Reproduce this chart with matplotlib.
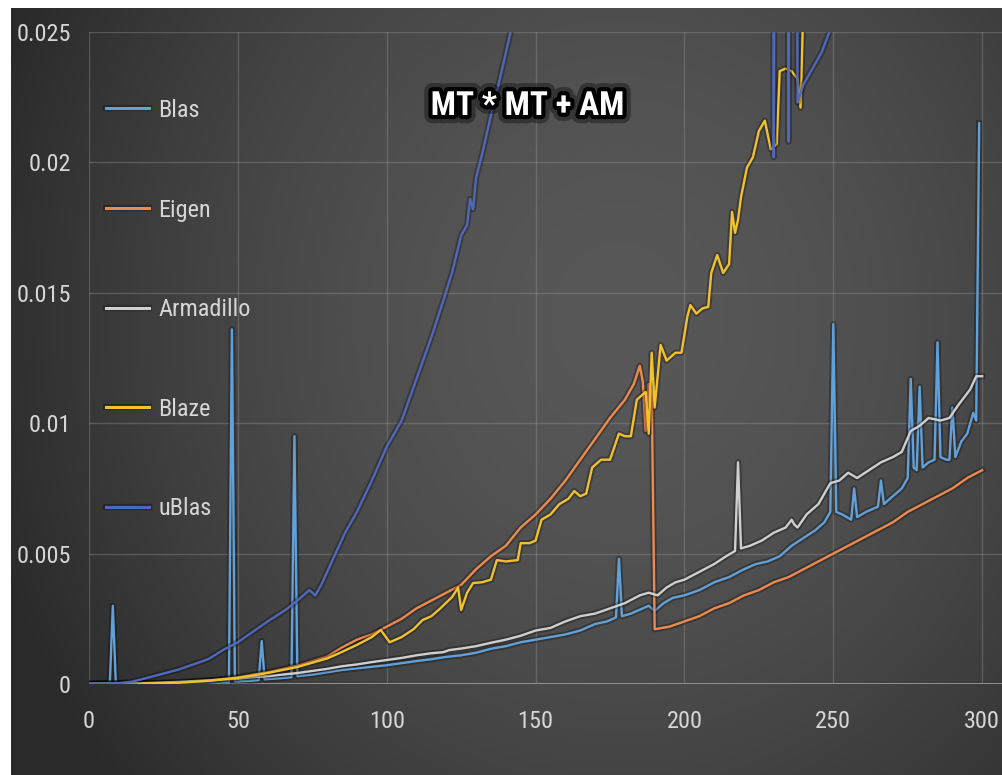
import numpy as np
import matplotlib
matplotlib.use("Agg")
import matplotlib.pyplot as plt
from matplotlib import patheffects as pe
from matplotlib.font_manager import FontProperties, findfont

# Runtime (s) of MT * MT + AM for matrix size n
blas_x = [0, 4, 7, 8, 9, 12, 20, 30, 40, 47, 48, 49, 54, 57, 58, 59, 64, 68, 69, 70,
          75, 80, 85, 90, 95, 100, 105, 110, 115, 120, 125, 130, 135, 140, 145, 150,
          155, 160, 165, 170, 174, 177, 178, 179, 182, 186, 188, 190, 193, 196, 200,
          205, 210, 215, 220, 224, 228, 232, 236, 240, 244, 247, 249, 250, 251, 253,
          256, 257, 258, 261, 265, 266, 267, 270, 273, 275, 276, 277, 278, 279, 280,
          282, 284, 285, 286, 288, 289, 290, 291, 293, 295, 297, 298, 299]
blas_y = [0.00002, 0.00003, 0.00004, 0.0030, 0.00004, 0.00003, 0.00003, 0.00004,
          0.00005, 0.00007, 0.0136, 0.0001, 0.00012, 0.00015, 0.00165, 0.00018,
          0.00022, 0.00026, 0.0095, 0.0003, 0.00036, 0.00045, 0.00054, 0.0006,
          0.00066, 0.00072, 0.0008, 0.00088, 0.00095, 0.00104, 0.0011, 0.0012,
          0.00135, 0.00145, 0.0016, 0.0017, 0.0018, 0.0019, 0.00205, 0.0023, 0.0024,
          0.00255, 0.0048, 0.0026, 0.0027, 0.0029, 0.0030, 0.0028, 0.0031, 0.0033,
          0.0034, 0.0036, 0.0039, 0.0041, 0.0044, 0.0046, 0.0047, 0.0049, 0.0053,
          0.0056, 0.0059, 0.0062, 0.0066, 0.0138, 0.0066, 0.0065, 0.0063, 0.0075,
          0.0064, 0.0066, 0.0068, 0.0078, 0.0069, 0.0072, 0.0075, 0.0079, 0.0117,
          0.0083, 0.0082, 0.0114, 0.0083, 0.0085, 0.0086, 0.0131, 0.0087, 0.0086,
          0.0086, 0.0106, 0.0087, 0.0093, 0.0096, 0.0104, 0.0101, 0.0215]

eigen_x = [0, 10, 20, 30, 40, 50, 60, 70, 80, 85, 90, 95, 100, 105, 110, 115, 120,
           125, 130, 135, 140, 145, 150, 155, 160, 165, 170, 175, 180, 183, 185, 186,
           187, 188, 189, 190, 195, 200, 205, 210, 215, 220, 225, 230, 235, 240, 245,
           250, 255, 260, 265, 270, 275, 280, 285, 290, 295, 300]
eigen_y = [0.0, 0.00001, 0.00002, 0.00005, 0.00013, 0.00026, 0.00045, 0.0007,
           0.00105, 0.0014, 0.0017, 0.0019, 0.0022, 0.0025, 0.0029, 0.0032, 0.0035,
           0.0038, 0.0044, 0.0049, 0.0053, 0.0060, 0.0065, 0.0071, 0.0078, 0.0086,
           0.0094, 0.0102, 0.0109, 0.0115, 0.0122, 0.0116, 0.0097, 0.0115, 0.0112,
           0.0021, 0.0022, 0.0024, 0.0026, 0.0029, 0.0031, 0.0034, 0.0036, 0.0039,
           0.0041, 0.0044, 0.0047, 0.0050, 0.0053, 0.0056, 0.0059, 0.0062, 0.0066,
           0.0069, 0.0072, 0.0075, 0.0079, 0.0082]

arma_x = [0, 10, 20, 30, 40, 50, 55, 60, 65, 70, 75, 80, 85, 90, 95, 100, 105, 110,
          115, 119, 121, 125, 130, 135, 140, 145, 150, 155, 160, 165, 170, 175, 180,
          185, 188, 191, 194, 197, 200, 205, 210, 214, 217, 218, 219, 222, 226, 230,
          234, 236, 237, 238, 241, 245, 249, 252, 255, 258, 262, 266, 270, 273, 276,
          279, 282, 286, 289, 292, 294, 296, 298, 300]
arma_y = [0.00001, 0.00002, 0.00004, 0.00008, 0.00014, 0.0002, 0.00026, 0.0003,
          0.00036, 0.00042, 0.0005, 0.00058, 0.00068, 0.00075, 0.00084, 0.00092,
          0.0010, 0.0011, 0.00118, 0.00122, 0.0013, 0.00136, 0.00145, 0.00158,
          0.0017, 0.00185, 0.00205, 0.00215, 0.0024, 0.0026, 0.0027, 0.0029, 0.0031,
          0.0034, 0.0035, 0.0034, 0.0037, 0.0039, 0.0040, 0.0043, 0.0046, 0.0049,
          0.0051, 0.0085, 0.0052, 0.0053, 0.0055, 0.0058, 0.0060, 0.0063, 0.0061,
          0.0060, 0.0065, 0.0069, 0.0077, 0.0078, 0.0081, 0.0079, 0.0082, 0.0085,
          0.0087, 0.0089, 0.0097, 0.0099, 0.0102, 0.0101, 0.0102, 0.0107, 0.0110,
          0.0113, 0.0118, 0.0118]

blaze_x = [0, 10, 20, 30, 40, 50, 60, 70, 80, 84, 90, 95, 98, 101, 105, 109, 112,
           115, 118, 122, 124, 125, 127, 129, 132, 135, 137, 140, 144, 145, 148, 150,
           152, 155, 158, 161, 163, 165, 167, 169, 172, 175, 178, 180, 182, 184, 187,
           188, 189, 190, 192, 194, 197, 199, 201, 202, 204, 206, 208, 209, 211, 213,
           215, 216, 217, 218, 219, 221, 223, 225, 227, 229, 231, 232, 234, 236, 238,
           239, 240]
blaze_y = [0.0, 0.00001, 0.00002, 0.00005, 0.00012, 0.00024, 0.00042, 0.00065,
           0.00098, 0.00118, 0.0015, 0.0018, 0.00207, 0.0016, 0.0018, 0.0021, 0.00245,
           0.0026, 0.0029, 0.00334, 0.0037, 0.00284, 0.0035, 0.00387, 0.0039, 0.0040,
           0.00475, 0.0047, 0.00475, 0.0054, 0.0054, 0.0055, 0.0063, 0.0065, 0.0069,
           0.0071, 0.0074, 0.0072, 0.0073, 0.0083, 0.0086, 0.0086, 0.0096, 0.0095,
           0.0095, 0.0109, 0.0112, 0.0096, 0.0127, 0.0106, 0.0130, 0.0124, 0.0127,
           0.0127, 0.0141, 0.01453, 0.0142, 0.0144, 0.01446, 0.01576, 0.01645,
           0.01576, 0.0161, 0.0181, 0.0173, 0.0178, 0.01867, 0.0198, 0.0202, 0.0212,
           0.0216, 0.0205, 0.0207, 0.0235, 0.0236, 0.0235, 0.0232, 0.0221, 0.0262]

ublas_x = [0, 10, 15, 20, 25, 30, 35, 40, 45, 50, 55, 60, 66, 70, 74, 76, 78, 82, 86,
           90, 95, 100, 105, 110, 115, 119, 122, 125, 127, 128, 129, 130, 132, 135,
           138, 142, 146, 150, 229, 230, 231, 234, 235, 236, 237, 238, 240, 243, 246,
           249, 252]
ublas_y = [0.00001, 0.00003, 0.0001, 0.00025, 0.0004, 0.00055, 0.00075, 0.00095,
           0.0013, 0.0016, 0.0020, 0.0024, 0.00284, 0.0032, 0.0036, 0.0034, 0.0038,
           0.0048, 0.0058, 0.0066, 0.0078, 0.0091, 0.0101, 0.0117, 0.0133, 0.0147,
           0.0158, 0.0172, 0.0176, 0.0186, 0.0182, 0.0194, 0.0203, 0.0218, 0.0232,
           0.0252, 0.0275, 0.0300, 0.0900, 0.0202, 0.0600, 0.0600, 0.0208, 0.0600,
           0.0600, 0.0223, 0.0230, 0.0236, 0.0242, 0.0251, 0.0262]

names = ["Blas", "Eigen", "Armadillo", "Blaze", "uBlas"]
colors = ["#62a0d8", "#ee8a4e", "#cfcfcf", "#f2c12e", "#5068bc"]
x_ticks = [0, 50, 100, 150, 200, 250, 300]
y_ticks = [0, 0.005, 0.01, 0.015, 0.02, 0.025]
y_tick_labels = ["0", "0.005", "0.01", "0.015", "0.02", "0.025"]


def first_font(candidates):
    for name in candidates:
        try:
            findfont(FontProperties(family=name), fallback_to_default=False)
            return name
        except ValueError:
            pass
    return "DejaVu Sans"


narrow = first_font(["Liberation Sans Narrow", "DejaVu Sans Condensed",
                     "Roboto Condensed", "Liberation Sans"])
plt.rcParams["font.family"] = [narrow, "DejaVu Sans"]

W, H = 1003, 775
fig = plt.figure(figsize=(W / 100, H / 100), dpi=100)

# dark backdrop, brighter toward the middle, white margin top/left
bg = fig.add_axes([0, 0, 1, 1], zorder=0)
px, py = np.meshgrid(np.arange(W), np.arange(H))
d = np.sqrt(((px - 620) / 640.0) ** 2 + ((py - 320) / 720.0) ** 2)
shade = np.clip(88 - 44 * d ** 1.7, 42, 92) / 255.0
img = np.dstack([shade, shade, shade])
img[:8, :, :] = 1.0
img[:, :11, :] = 1.0
bg.imshow(img, extent=[0, W, H, 0], aspect="auto", interpolation="bilinear")
bg.set_axis_off()

ax = fig.add_axes([89 / W, 91 / H, (W - 89) / W, 652 / H], zorder=1)
ax.patch.set_alpha(0)
ax.set_xlim(0, 307)
ax.set_ylim(0, 0.025)
for s in ax.spines.values():
    s.set_visible(False)

ax.set_xticks(x_ticks)
ax.set_yticks(y_ticks)
ax.set_yticklabels(y_tick_labels)
ax.grid(True, color="#9a9a9a", alpha=0.35, lw=1.0)
ax.axhline(0, color="#a8a8a8", lw=1.8, zorder=1)
ax.tick_params(length=0, colors="#d6d6d6", labelsize=17.5)
ax.tick_params(axis="x", pad=19)
ax.tick_params(axis="y", pad=13)

shadow = [pe.Stroke(linewidth=4.5, foreground="black", alpha=0.28), pe.Normal()]
series = [(blas_x, blas_y), (eigen_x, eigen_y), (arma_x, arma_y),
          (blaze_x, blaze_y), (ublas_x, ublas_y)]
handles = []
for (xs, ys), name, c in zip(series, names, colors):
    ln, = ax.plot(xs, ys, color=c, lw=1.7, label=name, zorder=3,
                  solid_joinstyle="round", path_effects=shadow)
    handles.append(ln)

leg = ax.legend(handles=handles, loc="upper left",
                bbox_to_anchor=(106 / W, 1 - 99 / H), bbox_transform=fig.transFigure,
                frameon=False, fontsize=17.5, labelcolor="#d6d6d6", borderpad=0,
                borderaxespad=0, handlelength=1.75, handletextpad=0.4,
                labelspacing=3.15)
for h in leg.legend_handles:
    h.set_linewidth(2.2)

fig.text(528 / W, 1 - 106 / H, "MT * MT + AM", ha="center", va="center",
         fontsize=24, fontweight="bold", color="white",
         path_effects=[pe.withStroke(linewidth=12, foreground="black", alpha=0.35),
                       pe.withStroke(linewidth=6, foreground="black")])

fig.savefig("out.png", dpi=100)
